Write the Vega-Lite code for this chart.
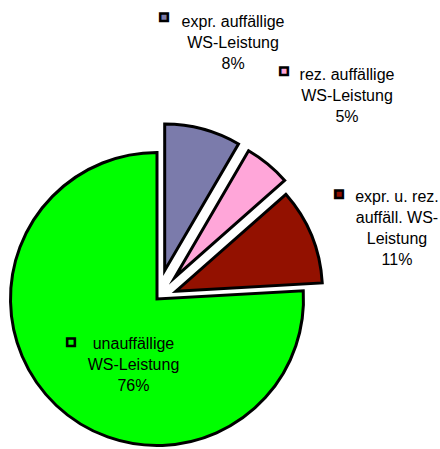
{
  "$schema": "https://vega.github.io/schema/vega-lite/v6.json",
  "width": 293,
  "height": 293,
  "autosize": {"type": "none"},
  "padding": {"left": 10.5, "top": 152.5, "right": 136.5, "bottom": 3.5},
  "background": "white",
  "config": {"view": {"stroke": null}},
  "data": {
    "values": [
      {"order": 1, "cat": "expr. auffällige WS-Leistung", "label": "expr. auffällige\nWS-Leistung", "value": 8.4},
      {"order": 2, "cat": "rez. auffällige WS-Leistung", "label": "rez. auffällige\nWS-Leistung", "value": 5.1},
      {"order": 3, "cat": "expr. u. rez. auffäll. WS-Leistung", "label": "expr. u. rez.\nauffäll. WS-\nLeistung", "value": 10.6},
      {"order": 4, "cat": "unauffällige WS-Leistung", "label": "unauffällige\nWS-Leistung", "value": 75.9}
    ]
  },
  "transform": [
    {"stack": "value", "groupby": [], "sort": [{"field": "order", "order": "ascending"}], "as": ["v0", "v1"]},
    {"calculate": "(datum.v0 + datum.v1) / 2", "as": "mid"},
    {"calculate": "datum.label + '\\n' + format(datum.value, '.0f') + '%'", "as": "txt"}
  ],
  "layer": [
    {
      "mark": {
        "type": "arc",
        "opacity": 1,
        "fillOpacity": 1,
        "stroke": "black",
        "strokeWidth": 3,
        "strokeMiterLimit": 10,
        "xOffset": {"expr": "[29.5, 28, 20.5, 0][datum.order - 1] * sin(PI * (datum.v0 + datum.v1) / 100)"},
        "yOffset": {"expr": "-[29.5, 28, 20.5, 0][datum.order - 1] * cos(PI * (datum.v0 + datum.v1) / 100)"}
      },
      "encoding": {
        "theta": {"field": "v0", "type": "quantitative", "stack": null, "scale": {"domain": [0, 100]}},
        "theta2": {"field": "v1"},
        "color": {
          "field": "cat",
          "type": "nominal",
          "legend": null,
          "scale": {
            "domain": ["expr. auffällige WS-Leistung", "rez. auffällige WS-Leistung", "expr. u. rez. auffäll. WS-Leistung", "unauffällige WS-Leistung"],
            "range": ["#7b7bab", "#ffa6d9", "#931100", "#00ff00"]
          }
        }
      }
    },
    {
      "mark": {
        "type": "text",
        "font": "Liberation Sans",
        "fontSize": 16,
        "lineHeight": 21,
        "lineBreak": "\n",
        "align": "center",
        "baseline": "alphabetic",
        "fill": "black",
        "radius": {"expr": "[282, 289, 259, 55.5][datum.order - 1]"},
        "dx": {"expr": "[2.5, 6.5, 0.4, 14.6][datum.order - 1]"},
        "dy": {"expr": "[0.2, 4.3, 1.4, 10][datum.order - 1]"}
      },
      "encoding": {
        "theta": {"field": "mid", "type": "quantitative", "stack": null, "scale": {"domain": [0, 100]}},
        "text": {"field": "txt", "type": "nominal"}
      }
    },
    {
      "mark": {
        "type": "text",
        "text": "■",
        "font": "DejaVu Sans",
        "fontSize": 10,
        "align": "center",
        "baseline": "middle",
        "opacity": 1,
        "stroke": "black",
        "strokeWidth": 2.5,
        "radius": {"expr": "[282, 289, 259, 55.5][datum.order - 1]"},
        "dx": {"expr": "[-66.5, -56.5, -57.6, -47.9][datum.order - 1]"},
        "dy": {"expr": "[-9.3, -5.2, -6.6, 3][datum.order - 1]"}
      },
      "encoding": {
        "theta": {"field": "mid", "type": "quantitative", "stack": null, "scale": {"domain": [0, 100]}},
        "color": {"field": "cat", "type": "nominal", "legend": null}
      }
    }
  ]
}
